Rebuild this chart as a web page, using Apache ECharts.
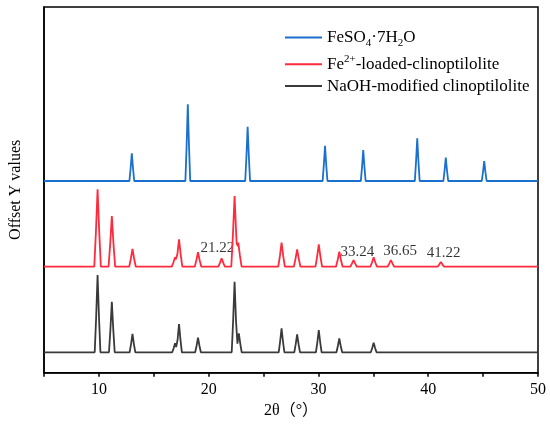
<!DOCTYPE html>
<html>
<head>
<meta charset="utf-8">
<script src="https://cdn.jsdelivr.net/npm/echarts@6/dist/echarts.min.js"></script>
<style>html,body{margin:0;padding:0;background:#fff;}#c{width:550px;height:431px;}</style>
</head>
<body>
<div id="c"></div>
<script>
// 2θ range
const xMin = 5, xMax = 50;
const xTickLabels = [10, 20, 30, 40, 50];

// FeSO4·7H2O peaks (2θ, height above baseline)
const fePos = [13.0, 18.1, 23.55, 30.6, 34.08, 39.0, 41.6, 45.1];
const feH   = [27.7, 76.7, 54.3, 35.3, 31.0, 42.7, 23.3, 20.0];
const feOffset = 191.7;

// Fe2+-loaded-clinoptilolite peaks
const loadedPos = [9.88, 11.18, 13.06, 16.94, 17.3, 19.03, 21.18, 22.36, 22.7, 26.64, 28.06, 30.03, 31.9, 33.2, 35.03, 36.6, 41.15];
const loadedH   = [77.4, 50.7, 17.7, 9.4, 27.4, 14.4, 8.4, 70.7, 24.0, 24.0, 17.4, 22.4, 15.0, 6.7, 9.4, 6.7, 4.7];
const loadedOffset = 106.0;

// NaOH-modified clinoptilolite peaks
const naohPos = [9.88, 11.18, 13.06, 16.94, 17.3, 19.03, 22.36, 22.75, 26.64, 28.06, 30.03, 31.9, 35.03];
const naohH   = [77.3, 50.6, 18.3, 9.0, 28.3, 14.6, 70.6, 19.0, 24.0, 18.0, 22.3, 14.0, 9.6];
const naohOffset = 20.4;

// peak annotations
const annoText = ['21.22', '33.24', '36.65', '41.22'];
const annoX = [20.8, 33.55, 37.45, 41.4];
const annoY = [124.4, 121.0, 121.7, 119.4];

const seriesNames = ['FeSO4·7H2O', 'Fe2+-loaded-clinoptilolite', 'NaOH-modified clinoptilolite'];
const colors = ['#1a70cc', '#ff2a3c', '#3a3a3a'];

// piecewise-linear peak profile (relative distance -> relative height)
const profD = [0, 0.5, 1];
const profF = [1, 0.45, 0];
function prof(r) {
  if (r >= 1) return 0;
  for (let k = 0; k < profD.length - 1; k++) {
    if (r <= profD[k + 1]) {
      const t = (r - profD[k]) / (profD[k + 1] - profD[k]);
      return profF[k] + t * (profF[k + 1] - profF[k]);
    }
  }
  return 0;
}
function buildTrace(pos, h, offset, w) {
  let xs = [xMin, xMax];
  pos.forEach(p => { profD.forEach(d => { xs.push(p - d * w, p + d * w); }); });
  xs = Array.from(new Set(xs.map(v => +v.toFixed(3)))).sort((a, b) => a - b);
  return xs.map(x => {
    let m = 0;
    pos.forEach((p, i) => {
      const t = h[i] * prof(Math.abs(x - p) / w);
      if (t > m) m = t;
    });
    return [x, offset + m];
  });
}

const font = "'Liberation Serif','Times New Roman','Noto Sans CJK SC',serif";
const chart = echarts.init(document.getElementById('c'));
const richStyles = {
  n: { fontSize: 17, fontFamily: font, color: '#000', lineHeight: 22, verticalAlign: 'middle' },
  s: { fontSize: 11, fontFamily: font, color: '#000', lineHeight: 11, verticalAlign: 'bottom' },
  p: { fontSize: 11, fontFamily: font, color: '#000', lineHeight: 11, verticalAlign: 'top' }
};
const legendRich = {
  'FeSO4·7H2O': '{n|FeSO}{s|4}{n|·7H}{s|2}{n|O}',
  'Fe2+-loaded-clinoptilolite': '{n|Fe}{p|2+}{n|-loaded-clinoptilolite}',
  'NaOH-modified clinoptilolite': '{n|NaOH-modified clinoptilolite}'
};

chart.setOption({
  animation: false,
  backgroundColor: '#fff',
  grid: { left: 43, right: 12, top: 7, bottom: 58.3, show: true, borderColor: '#000', borderWidth: 1.5 },
  legend: {
    data: seriesNames,
    orient: 'vertical',
    left: 285, top: 29, padding: 0,
    itemWidth: 37, itemHeight: 2, icon: 'rect', itemGap: 4.8,
    textStyle: { fontFamily: font, fontSize: 17, color: '#000', rich: richStyles },
    formatter: name => legendRich[name]
  },
  xAxis: {
    type: 'value', min: xMin, max: xMax, interval: 5,
    name: '2θ（°）', nameLocation: 'middle', nameGap: 25,
    nameTextStyle: { fontFamily: font, fontSize: 16, color: '#000' },
    axisLine: { lineStyle: { color: '#000', width: 1.5 } },
    axisTick: { show: true, inside: false, length: 4, lineStyle: { color: '#000', width: 1.5 } },
    axisLabel: {
      margin: 9, fontFamily: font, fontSize: 16, color: '#000',
      formatter: v => xTickLabels.indexOf(v) >= 0 ? String(v) : ''
    },
    splitLine: { show: false }
  },
  yAxis: {
    type: 'value', min: 0, max: 365.7,
    name: 'Offset Y values', nameLocation: 'middle', nameGap: 20,
    nameTextStyle: { fontFamily: font, fontSize: 16, color: '#000' },
    axisLine: { show: true, lineStyle: { color: '#000', width: 1.5 } },
    axisTick: { show: false }, axisLabel: { show: false }, splitLine: { show: false }
  },
  series: [
    { name: seriesNames[0], type: 'line', showSymbol: false, color: colors[0],
      lineStyle: { width: 1.8, color: colors[0] }, data: buildTrace(fePos, feH, feOffset, 0.22) },
    { name: seriesNames[1], type: 'line', showSymbol: false, color: colors[1],
      lineStyle: { width: 1.8, color: colors[1] }, data: buildTrace(loadedPos, loadedH, loadedOffset, 0.3) },
    { name: seriesNames[2], type: 'line', showSymbol: false, color: colors[2],
      lineStyle: { width: 1.8, color: colors[2] }, data: buildTrace(naohPos, naohH, naohOffset, 0.26) },
    { name: 'annotations', type: 'scatter', symbolSize: 0, silent: true,
      data: annoText.map((t, i) => ({ value: [annoX[i], annoY[i]], name: t })),
      label: { show: true, position: 'inside', formatter: p => p.name,
        fontFamily: font, fontSize: 15, color: '#000' } }
  ]
});
</script>
</body>
</html>
